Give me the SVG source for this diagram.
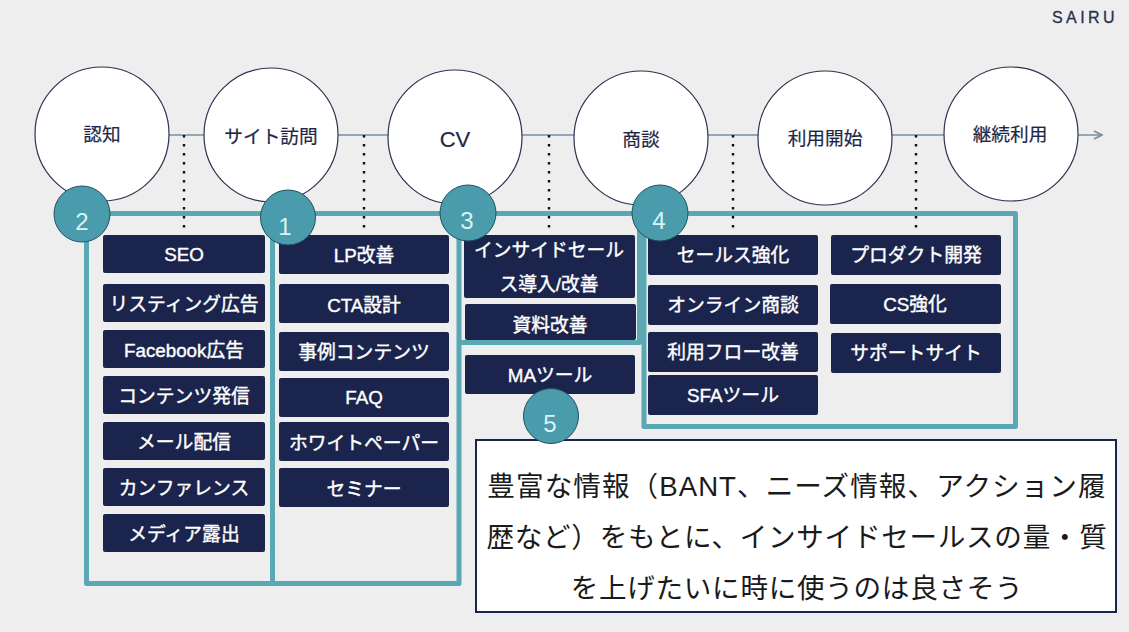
<svg xmlns="http://www.w3.org/2000/svg" width="1129" height="632" viewBox="0 0 1129 632">
<style>
text{font-family:"Liberation Sans","Noto Sans CJK JP",sans-serif;text-anchor:middle}
.stage circle{fill:#fff;stroke:#2b3350;stroke-width:1.2}
.stage text{font-size:18.700px;fill:#1f2747;font-weight:400;stroke:#1f2747;stroke-width:.2px}
.task rect{fill:#1b244c;rx:2px}
.task text{font-size:18.800px;fill:#fff;font-weight:400;stroke:#fff;stroke-width:.4px}
.badge circle{fill:#4a9bab;stroke:#21505e;stroke-width:1}
.badge text{font-size:24px;fill:#d9f4f6}
.frame{fill:none;stroke:#5aa8b4;stroke-width:5;stroke-linejoin:round}
.dots{stroke:#111;stroke-width:2.4;stroke-dasharray:2.4 6.6;fill:none}
.note text{font-size:27.600px;fill:#1a1a1a;letter-spacing:.7px}
</style>
<defs>
<marker id="arrow" markerWidth="10" markerHeight="10" refX="9" refY="5" orient="auto" markerUnits="userSpaceOnUse"><path d="M1 1L9 5L1 9" fill="none" stroke="#7a8da0" stroke-width="1.6"/></marker>
</defs>
<rect width="1129" height="632" fill="#eeeeef"/>
<text x="1085" y="22.500" style="font-size:16px;letter-spacing:3.400px;fill:#27304f;stroke:#27304f;stroke-width:.3px">SAIRU</text>

<g id="connectors">
<path d="M169 135H1102" fill="none" stroke="#7a8da0" stroke-width="1.6" marker-end="url(#arrow)"/>
<path class="dots" d="M184 135V233M364 135V233M549 135V233M733 135V233M916 135V233"/>
</g>

<g id="stages" class="stage">
<g id="stage-awareness"><circle cx="102" cy="134" r="67"/><text x="102" y="141">認知</text></g>
<g id="stage-visit"><circle cx="271" cy="135" r="67"/><text x="271" y="143">サイト訪問</text></g>
<g id="stage-cv"><circle cx="455" cy="137" r="67"/><text x="455" y="147" style="font-size:22px">CV</text></g>
<g id="stage-meeting"><circle cx="641" cy="138" r="67"/><text x="641" y="146">商談</text></g>
<g id="stage-start"><circle cx="825" cy="138" r="67"/><text x="825" y="145">利用開始</text></g>
<g id="stage-retention"><circle cx="1011" cy="134" r="67"/><text x="1010" y="141">継続利用</text></g>
</g>

<g id="frames">
<path class="frame" d="M86.500 213.500H459V583.500H86.500Z"/>
<path class="frame" d="M272.500 213.500V583.500"/>
<path class="frame" d="M462 213.500H1015.500V426.500H644V213.500" />
<path class="frame" d="M461 342.500H639.500V213.500"/>
</g>

<g class="task">
<g id="task-seo"><rect x="103" y="235" width="162" height="38"/><text x="184" y="261">SEO</text></g>
<g id="task-listing"><rect x="103" y="284" width="162" height="38"/><text x="184" y="311">リスティング広告</text></g>
<g id="task-facebook"><rect x="103" y="330" width="162" height="38"/><text x="184" y="357">Facebook広告</text></g>
<g id="task-content"><rect x="103" y="376" width="162" height="38"/><text x="184" y="403">コンテンツ発信</text></g>
<g id="task-mail"><rect x="103" y="422" width="162" height="38"/><text x="184" y="449">メール配信</text></g>
<g id="task-conference"><rect x="103" y="468" width="162" height="38"/><text x="184" y="495">カンファレンス</text></g>
<g id="task-media"><rect x="103" y="514" width="162" height="38"/><text x="184" y="541">メディア露出</text></g>

<g id="task-lp"><rect x="279" y="235" width="170" height="39"/><text x="364" y="262">LP改善</text></g>
<g id="task-cta"><rect x="279" y="284" width="170" height="39"/><text x="364" y="312">CTA設計</text></g>
<g id="task-cases"><rect x="279" y="332" width="170" height="39"/><text x="364" y="359">事例コンテンツ</text></g>
<g id="task-faq"><rect x="279" y="378" width="170" height="39"/><text x="364" y="404">FAQ</text></g>
<g id="task-whitepaper"><rect x="279" y="422" width="170" height="39"/><text x="364" y="450">ホワイトペーパー</text></g>
<g id="task-seminar"><rect x="279" y="468" width="170" height="39"/><text x="364" y="496">セミナー</text></g>

<g id="task-insidesales"><rect x="464" y="235" width="171" height="63"/><text x="549" y="257">インサイドセール</text><text x="549" y="291">ス導入/改善</text></g>
<g id="task-materials"><rect x="465" y="304" width="171" height="36"/><text x="550" y="332">資料改善</text></g>
<g id="task-ma"><rect x="465" y="355" width="170" height="39"/><text x="550" y="382">MAツール</text></g>

<g id="task-sales"><rect x="648" y="235" width="170" height="40"/><text x="733" y="262">セールス強化</text></g>
<g id="task-online"><rect x="648" y="285" width="170" height="40"/><text x="733" y="312">オンライン商談</text></g>
<g id="task-flow"><rect x="648" y="332" width="170" height="40"/><text x="733" y="359">利用フロー改善</text></g>
<g id="task-sfa"><rect x="648" y="375" width="170" height="40"/><text x="733" y="402">SFAツール</text></g>

<g id="task-product"><rect x="831" y="235" width="170" height="40"/><text x="916" y="262">プロダクト開発</text></g>
<g id="task-cs"><rect x="830" y="284" width="171" height="40"/><text x="915" y="311">CS強化</text></g>
<g id="task-support"><rect x="831" y="333" width="170" height="40"/><text x="916" y="360">サポートサイト</text></g>
</g>

<g id="note" class="note">
<rect x="476" y="440" width="640" height="172" fill="#fff" stroke="#1b244c" stroke-width="2"/>
<text x="797" y="496" style="letter-spacing:1.050px">豊富な情報（BANT、ニーズ情報、アクション履</text>
<text x="797" y="547">歴など）をもとに、インサイドセールスの量・質</text>
<text x="797" y="598">を上げたいに時に使うのは良さそう</text>
</g>

<g class="badge">
<g id="badge-2"><circle cx="82" cy="214" r="28"/><text x="82" y="230">2</text></g>
<g id="badge-1"><circle cx="288" cy="217.500" r="27.500"/><text x="285" y="235">1</text></g>
<g id="badge-3"><circle cx="468" cy="213" r="28"/><text x="467" y="229">3</text></g>
<g id="badge-4"><circle cx="660" cy="213" r="28"/><text x="659" y="229">4</text></g>
<g id="badge-5"><circle cx="551" cy="416" r="27.500"/><text x="550" y="432">5</text></g>
</g>
</svg>
